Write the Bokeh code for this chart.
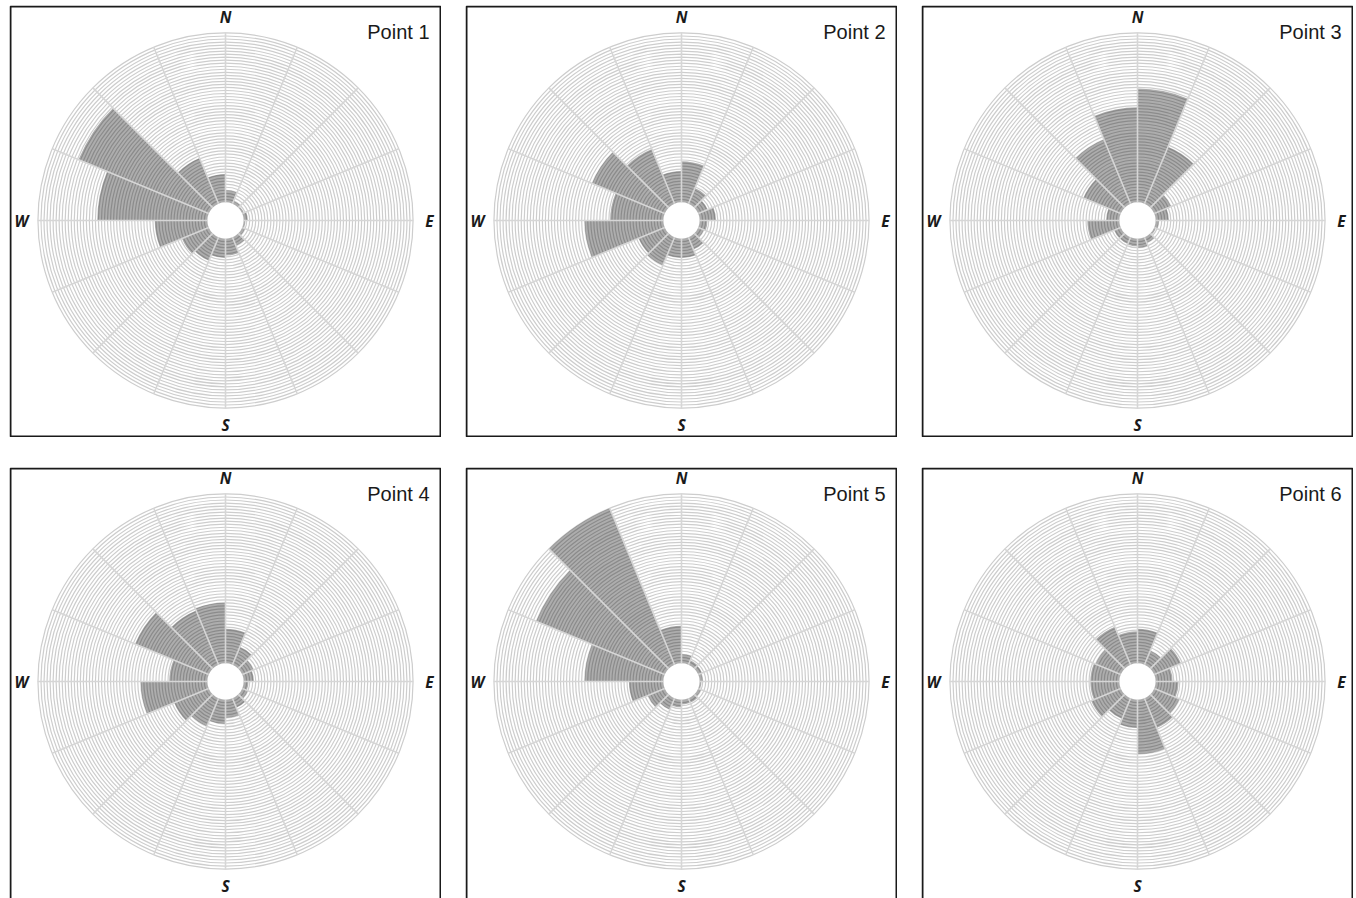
import math
from bokeh.plotting import figure
from bokeh.layouts import row, column
from bokeh.models import Range1d
from bokeh.core.properties import value
from bokeh.embed import file_html
from bokeh.resources import INLINE

# ---- data -------------------------------------------------------------
# 16 direction sectors, bearing of the sector start (clockwise from North)
sector_start = [0, 22.5, 45, 67.5, 90, 112.5, 135, 157.5,
                180, 202.5, 225, 247.5, 270, 292.5, 315, 337.5]
sector_width = 22.5

titles = ["Point 1", "Point 2", "Point 3", "Point 4", "Point 5", "Point 6"]

# frequency (%) per sector
point1 = [2.0, 0.5, 0.3, 0.7, 0.3, 0.5, 1.5, 2.8, 3.2, 4.2, 4.8, 8.7, 18.2, 23.3, 8.2, 4.7]
point2 = [6.8, 2.8, 1.7, 2.7, 1.3, 1.0, 2.2, 3.2, 3.2, 5.0, 4.7, 13.0, 8.8, 13.0, 9.8, 5.2]
point3 = [18.8, 10.2, 3.0, 2.2, 0.5, 0.3, 1.0, 1.5, 1.3, 1.2, 1.2, 5.3, 2.2, 6.7, 11.5, 15.7]
point4 = [5.7, 3.2, 2.0, 1.7, 0.8, 1.0, 1.7, 3.0, 4.0, 5.0, 6.2, 11.0, 6.3, 13.2, 9.7, 10.0]
point5 = [1.5, 0.8, 0.7, 0.5, 0.3, 0.5, 0.8, 0.8, 1.3, 2.0, 3.0, 5.7, 13.0, 23.0, 28.0, 6.2]
point6 = [5.7, 2.5, 4.8, 2.8, 3.8, 4.5, 5.3, 9.0, 4.7, 3.7, 5.3, 4.8, 4.8, 4.5, 6.8, 5.3]
series = [point1, point2, point3, point4, point5, point6]

compass_labels = ["N", "E", "S", "W"]
compass_bearing = [0, 90, 180, 270]

# radial axis: calm hole offset, grid ring step and maximum (in %)
HOLE = 3.0
RING_STEP = 0.5
R_MAX = 28.0

# ---- styling / layout -------------------------------------------------
U = 6.05           # screen pixels per data unit
PANEL = 432        # panel size in px
HALF = PANEL / 2 / U


def make_panel(title, freqs, height, center_from_top, bottom_border=True):
    top = center_from_top / U
    bottom = -(height - center_from_top) / U
    p = figure(width=PANEL, height=height,
               x_range=Range1d(-HALF, HALF), y_range=Range1d(bottom, top),
               output_backend="svg", toolbar_location=None, min_border=0,
               outline_line_color=None, background_fill_color="white",
               border_fill_color="white")
    p.axis.visible = False
    p.grid.visible = False

    # concentric grid rings
    n_rings = int(round(R_MAX / RING_STEP))
    ring_r = [HOLE + RING_STEP * (i + 1) for i in range(n_rings)]
    p.circle(x=[0] * len(ring_r), y=[0] * len(ring_r), radius=ring_r,
             fill_color=None, line_color="#cdcdcd", line_width=1.2)

    # bars (sectors)
    start_ang = [math.radians(90 - (b + sector_width)) for b in sector_start]
    end_ang = [math.radians(90 - b) for b in sector_start]
    outer = [HOLE + v for v in freqs]
    n = len(sector_start)
    p.annular_wedge(x=[0] * n, y=[0] * n, inner_radius=HOLE, outer_radius=outer,
                    start_angle=start_ang, end_angle=end_ang,
                    fill_color="black", fill_alpha=0.32, line_color=None)

    # spokes
    rmax = HOLE + R_MAX
    x0 = [HOLE * math.sin(math.radians(b)) for b in sector_start]
    y0 = [HOLE * math.cos(math.radians(b)) for b in sector_start]
    x1 = [rmax * math.sin(math.radians(b)) for b in sector_start]
    y1 = [rmax * math.cos(math.radians(b)) for b in sector_start]
    p.segment(x0=x0, y0=y0, x1=x1, y1=y1, line_color="#d6d6d6", line_width=1.6)

    # compass labels (centre offsets from the rose centre, in px)
    lab_r = {"N": 203.6 / U, "S": 204.7 / U, "E": 204 / U, "W": 204 / U}
    lx = [lab_r[t] * math.sin(math.radians(b)) for t, b in zip(compass_labels, compass_bearing)]
    ly = [lab_r[t] * math.cos(math.radians(b)) for t, b in zip(compass_labels, compass_bearing)]
    p.text(x=lx, y=ly, text=compass_labels, text_align="center",
           text_baseline="middle", text_font=value("Open Sans"),
           text_font_style="bold italic", text_font_size="15.5px",
           text_color="#1a1a1a")

    # title
    p.text(x=[HALF - 12 / U], y=[top - 26 / U], text=[title],
           text_align="right", text_baseline="middle",
           text_font=value("Liberation Sans"), text_font_size="20px",
           text_color="#1a1a1a")

    # panel border (bottom row is cut by the page edge)
    rt = top - 1 / U
    rb = (bottom + 1 / U) if bottom_border else (bottom - 5)
    p.rect(x=[0], y=[(rt + rb) / 2], width=[2 * (HALF - 1 / U)], height=[rt - rb],
           fill_color=None, line_color="#1a1a1a", line_width=2)
    return p


figs = []
for i, (t, s) in enumerate(zip(titles, series)):
    if i < 3:
        figs.append(make_panel(t, s, 432, 215))
    else:
        figs.append(make_panel(t, s, 431, 214, bottom_border=False))

layout = column(row(figs[0], figs[1], figs[2], spacing=24),
                row(figs[3], figs[4], figs[5], spacing=24),
                spacing=30, margin=(5, 0, 0, 9))

open("out.html", "w").write(file_html(layout, INLINE))
